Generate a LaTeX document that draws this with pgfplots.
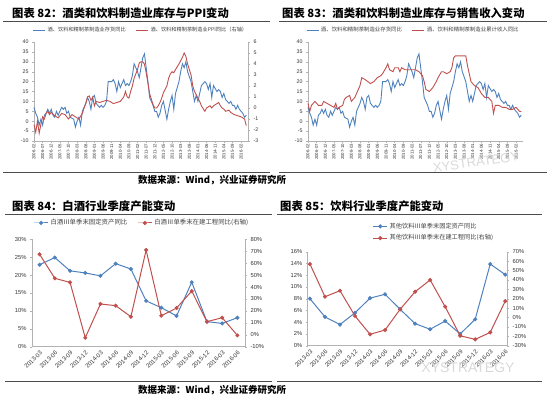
\documentclass[border=0pt]{standalone}
\usepackage{fontspec}
\setmainfont{Liberation Sans}
\newfontfamily\cjk{Noto Sans CJK SC}
\usepackage{pgfplots}
\usepackage{pgfplotstable}
\pgfplotsset{compat=1.18}
\definecolor{xlblue}{HTML}{4F81BD}
\definecolor{xlred}{HTML}{C0504D}

\pgfplotstableread{
m v
0 7
1 4
2 2
3 -2
4 1
5 -2
6 3
7 4
8 6
9 4
10 6
11 3
12 2
13 5
14 3
16 7
17 6
18 7
19 4
20 5
21 2
23 1
24 -3
25 0
26 2
27 -2
28 5
30 9
31 12
32 10
33 6
34 12
35 13
36 9
38 7
39 8
40 7
41 8
42 10
43 20
45 20
46 21
47 19
48 15
49 20
50 17
52 21
53 18
54 19
55 18
56 20
57 23
58 29
60 25
61 22
62 27
63 32
64 34
65 27
66 20
67 12
69 8
70 5
71 5
72 2
73 4
74 8
75 10
77 1
78 6
79 10
80 13
81 6
82 14
84 20
85 25
86 29
87 27
88 30
89 25
91 20
92 15
93 10
94 13
95 10
96 14
97 18
99 20
100 19
101 16
102 19
103 12
104 18
106 15
107 16
108 15
109 12
110 14
111 11
113 9
114 10
115 8
116 8
117 6
118 8
119 6
121 4
122 2
123 3
}\invdata

\pgfplotstableread{
m v
0 -1.5
1 -2.2
2 -1.2
3 -2.3
4 -1.5
5 -0.8
6 -1.0
7 -0.5
8 -0.3
9 -0.6
10 -0.4
12 -0.7
14 -0.9
16 -0.5
18 -0.6
20 -1.0
22 -0.6
24 -0.8
26 -1.0
28 -0.5
29 0.0
30 0.4
31 1.0
32 1.1
33 0.7
34 1.0
35 0.2
36 0.6
38 0.5
40 0.6
42 0.7
44 0.6
46 0.4
48 0.5
50 0.6
52 1.0
53 1.5
54 1.0
55 0.9
56 1.5
57 2.0
58 2.7
60 3.5
61 4.1
62 4.2
63 4.2
64 4.0
65 3.2
66 2.3
67 1.3
69 0.3
70 0.0
71 0.0
72 0.2
73 0.5
74 0.9
75 1.4
77 2.0
78 2.7
79 3.1
80 3.3
81 3.2
82 3.5
84 4.0
85 4.3
86 4.6
87 5.0
88 4.7
89 4.0
91 3.0
92 2.0
93 1.5
94 1.2
95 0.9
96 0.6
97 0.2
99 -0.3
100 0.0
101 0.1
102 0.2
103 0.0
104 0.2
106 0.4
107 0.5
108 0.2
109 0.0
110 -0.1
111 -0.3
113 -0.2
114 -0.4
116 -0.6
118 -0.7
120 -0.8
122 -1.0
123 -1.6
}\ppidata

\pgfplotstableread{
m v
0 9
1 5
2 8
4 10
6 8
8 8
9 10
11 9
13 8
15 7
16 9
17 6
18 7
20 8
21 11
22 12
24 13
25 10
27 12
28 14
30 18
31 22
33 21
36 19
38 20
40 22
42 23
43 24
45 27
46 29
47 26
49 25
50 27
52 27
53 25
54 27
56 26
59 26
62 26
64 25
66 23
67 20
68 16
70 15
72 17
74 20
75 22
77 25
78 25
80 24
82 25
83 27
84 32
85 33
88 33
91 33
92 28
93 24
94 20
96 18
98 17
100 14
102 12
104 12
106 10
107 4
108 8
110 8
112 7
114 7
116 6
118 6
120 7
122 5
123 5
}\revdata

\pgfplotstableread{
q fa cip
0 22.9 67.4
1 24.9 47.3
2 21.2 43.9
3 20.6 -2.5
4 19.8 25.8
5 23.2 24.4
6 21.7 15.1
7 12.8 71.0
8 10.9 16.0
9 8.6 22.4
10 18.0 36.6
11 7.0 11.0
12 6.5 14.3
13 8.1 -0.5
}\baijiu

\pgfplotstableread{
q fa cip
0 8.0 56.9
1 4.9 22.1
2 3.6 28.5
3 5.6 1.6
4 8.1 -17.9
5 8.75 -13.3
6 6.2 8.7
7 3.75 27.4
8 2.8 39.9
9 4.2 11.5
10 2.0 -19.4
11 4.5 -23.3
12 13.9 -15.8
13 12.1 17.5
}\yinliao

\pgfplotsset{
  base/.style={scale only axis, anchor=south west,
    axis line style={draw=gray!60, line width=0.5pt},
    tick style={draw=gray!60, line width=0.4pt},
    major tick length=2pt, tick align=outside,
    /pgf/number format/assume math mode=true,
    tick label style={font=\fontsize{5.3}{6}\selectfont, text=black!80},
    clip=false},
  monthx/.style={xmin=0, xmax=124, xtick={0,5,...,120},
    xticklabels={2006-02,2006-07,2006-12,2007-05,2007-10,2008-03,2008-08,2009-01,2009-06,2009-11,2010-04,2010-09,2011-02,2011-07,2011-12,2012-05,2012-10,2013-03,2013-08,2014-01,2014-06,2014-11,2015-04,2015-09,2016-02},
    xticklabel style={rotate=90, anchor=east, font=\fontsize{4.3}{5}\selectfont, inner sep=1pt}},
  quarterx/.style={xtick={0,...,13},
    xticklabels={2013-03,2013-06,2013-09,2013-12,2014-03,2014-06,2014-09,2014-12,2015-03,2015-06,2015-09,2015-12,2016-03,2016-06},
    xticklabel style={rotate=45, anchor=north east, font=\fontsize{6}{7}\selectfont, inner sep=1pt},
    xtick style={draw=none}},
  pct/.style={yticklabel={\pgfmathprintnumber{\tick}\%}},
  lineleg/.style={legend image code/.code={\draw[##1] (0pt,0pt) -- (12pt,0pt);}},
  markleg/.style={legend image code/.code={\draw[##1, mark repeat=2, mark phase=2] plot coordinates {(0pt,0pt) (7pt,0pt) (14pt,0pt)};}},
}

\begin{document}
\begin{tikzpicture}
\path[use as bounding box] (0,0) rectangle (550pt,-399pt);

% ---------- titles, rules, sources ----------
\node[anchor=west, inner sep=0] at (12pt,-13.5pt) {\cjk\bfseries\fontsize{11.3}{13}\selectfont 图表 82：酒类和饮料制造业库存与PPI变动};
\node[anchor=west, inner sep=0] at (282pt,-13.5pt) {\cjk\bfseries\fontsize{11.3}{13}\selectfont 图表 83：酒类和饮料制造业库存与销售收入变动};
\node[anchor=west, inner sep=0] at (12pt,-206pt) {\cjk\bfseries\fontsize{11.3}{13}\selectfont 图表 84：白酒行业季度产能变动};
\node[anchor=west, inner sep=0] at (280pt,-206pt) {\cjk\bfseries\fontsize{11.3}{13}\selectfont 图表 85：饮料行业季度产能变动};
\draw[black!70, line width=1pt] (3pt,-21pt) -- (270pt,-21pt);
\draw[black!70, line width=1pt] (279pt,-21pt) -- (547pt,-21pt);
\draw[black!70, line width=1pt] (3pt,-172.5pt) -- (270pt,-172.5pt);
\draw[black!70, line width=1pt] (279pt,-172.5pt) -- (547pt,-172.5pt);
\draw[black!70, line width=1pt] (5pt,-214pt) -- (272pt,-214pt);
\draw[black!70, line width=1pt] (277pt,-214pt) -- (542pt,-214pt);
\draw[black!70, line width=1pt] (5pt,-381pt) -- (272pt,-381pt);
\draw[black!70, line width=1pt] (277pt,-381pt) -- (542pt,-381pt);
\node[anchor=west, inner sep=0] at (138pt,-180pt) {\cjk\bfseries\fontsize{9.5}{11}\selectfont 数据来源：Wind，兴业证券研究所};
\node[anchor=west, inner sep=0] at (138pt,-390pt) {\cjk\bfseries\fontsize{9.5}{11}\selectfont 数据来源：Wind，兴业证券研究所};

% ---------- Chart 82 ----------
\begin{axis}[base, monthx, at={(34pt,-141pt)}, width=214pt, height=99pt,
  ymin=-10, ymax=40, ytick={-10,-5,...,40},
  axis y line*=left, axis x line*=bottom]
\addplot[xlblue, line width=0.9pt] table[x=m,y=v] {\invdata};
\end{axis}
\begin{axis}[base, at={(34pt,-141pt)}, width=214pt, height=99pt,
  xmin=0, xmax=124, ymin=-3, ymax=6, ytick={-3,...,6},
  axis y line*=right, axis x line=none, lineleg,
  legend style={at={(0.5,1.12)}, anchor=center, draw=none, fill=none,
    legend columns=2, font=\cjk\fontsize{5.2}{6}\selectfont, text=black!75,
    /tikz/every even column/.append style={column sep=8pt}}]
\addlegendimage{xlblue, line width=0.9pt}
\addlegendentry{酒、饮料和精制茶制造业存货同比}
\addplot[xlred, line width=0.9pt] table[x=m,y=v] {\ppidata};
\addlegendentry{酒、饮料和精制茶制造业PPI同比（右轴）}
\end{axis}

% ---------- Chart 83 ----------
\begin{axis}[base, monthx, at={(308pt,-141pt)}, width=215pt, height=99pt,
  ymin=-10, ymax=40, ytick={-10,-5,...,40},
  axis y line*=left, axis x line*=bottom, lineleg,
  legend style={at={(0.49,1.12)}, anchor=center, draw=none, fill=none,
    legend columns=2, font=\cjk\fontsize{5.4}{6}\selectfont, text=black!75,
    /tikz/every even column/.append style={column sep=8pt}}]
\addplot[xlblue, line width=0.9pt] table[x=m,y=v] {\invdata};
\addlegendentry{酒、饮料和精制茶制造业存货同比}
\addplot[xlred, line width=0.9pt] table[x=m,y=v] {\revdata};
\addlegendentry{酒、饮料和精制茶制造业累计收入同比}
\end{axis}

% ---------- Chart 84 ----------
\begin{axis}[base, quarterx, pct, at={(32pt,-346.7pt)}, width=213pt, height=107.4pt,
  xmin=-0.5, xmax=13.5, ymin=0, ymax=30, ytick={0,5,...,30},
  axis y line*=left, axis x line*=bottom,
  tick label style={font=\fontsize{5.8}{7}\selectfont}]
\addplot[xlblue, line width=1pt, mark=*, mark size=1.5pt] table[x=q,y=fa] {\baijiu};
\end{axis}
\begin{axis}[base, pct, at={(32pt,-346.7pt)}, width=213pt, height=107.4pt,
  xmin=-0.5, xmax=13.5, ymin=-10, ymax=80, ytick={-10,0,...,80},
  axis y line*=right, axis x line=none, markleg,
  tick label style={font=\fontsize{5.8}{7}\selectfont},
  legend style={at={(0.516,1.152)}, anchor=center, draw=none, fill=none,
    legend columns=2, font=\cjk\fontsize{6.4}{7}\selectfont, text=black!75,
    /tikz/every even column/.append style={column sep=8pt}}]
\addlegendimage{xlblue, line width=1pt, mark=*, mark size=1.5pt}
\addlegendentry{白酒Ⅲ单季末固定资产同比}
\addplot[xlred, line width=1pt, mark=*, mark size=1.5pt] table[x=q,y=cip] {\baijiu};
\addlegendentry{白酒Ⅲ单季末在建工程同比(右轴)}
\end{axis}

% ---------- Chart 85 ----------
\begin{axis}[base, quarterx, pct, at={(307.7pt,-345.7pt)}, width=199.5pt, height=94pt,
  xmin=-0.15, xmax=13.13, ymin=0, ymax=16, ytick={0,2,...,16},
  axis y line*=left, axis x line*=bottom,
  tick label style={font=\fontsize{5.8}{7}\selectfont}]
\addplot[xlblue, line width=1pt, mark=*, mark size=1.5pt] table[x=q,y=fa] {\yinliao};
\end{axis}
\begin{axis}[base, pct, at={(307.7pt,-345.7pt)}, width=199.5pt, height=94pt,
  xmin=-0.15, xmax=13.13, ymin=-30, ymax=70, ytick={-30,-20,...,70},
  axis y line*=right, axis x line=none, markleg,
  tick label style={font=\fontsize{5.8}{7}\selectfont},
  legend style={at={(0.31,1.207)}, anchor=west, draw=none, fill=none,
    legend columns=1, font=\cjk\fontsize{6.2}{7}\selectfont, text=black!75,
    legend cell align=left, row sep=1pt}]
\addlegendimage{xlblue, line width=1pt, mark=*, mark size=1.5pt}
\addlegendentry{其他饮料Ⅲ单季末固定资产同比}
\addplot[xlred, line width=1pt, mark=*, mark size=1.5pt] table[x=q,y=cip] {\yinliao};
\addlegendentry{其他饮料Ⅲ单季末在建工程同比(右轴)}
\end{axis}

% ---------- watermarks ----------
\node[text=gray!30, rotate=8, inner sep=0] at (476pt,-162pt) {\fontsize{13}{14}\selectfont XYSTRATEGY};
\node[text=gray!30, inner sep=0] at (468pt,-368pt) {\fontsize{14}{15}\selectfont XYSTRATEGY};
\end{tikzpicture}
\end{document}
